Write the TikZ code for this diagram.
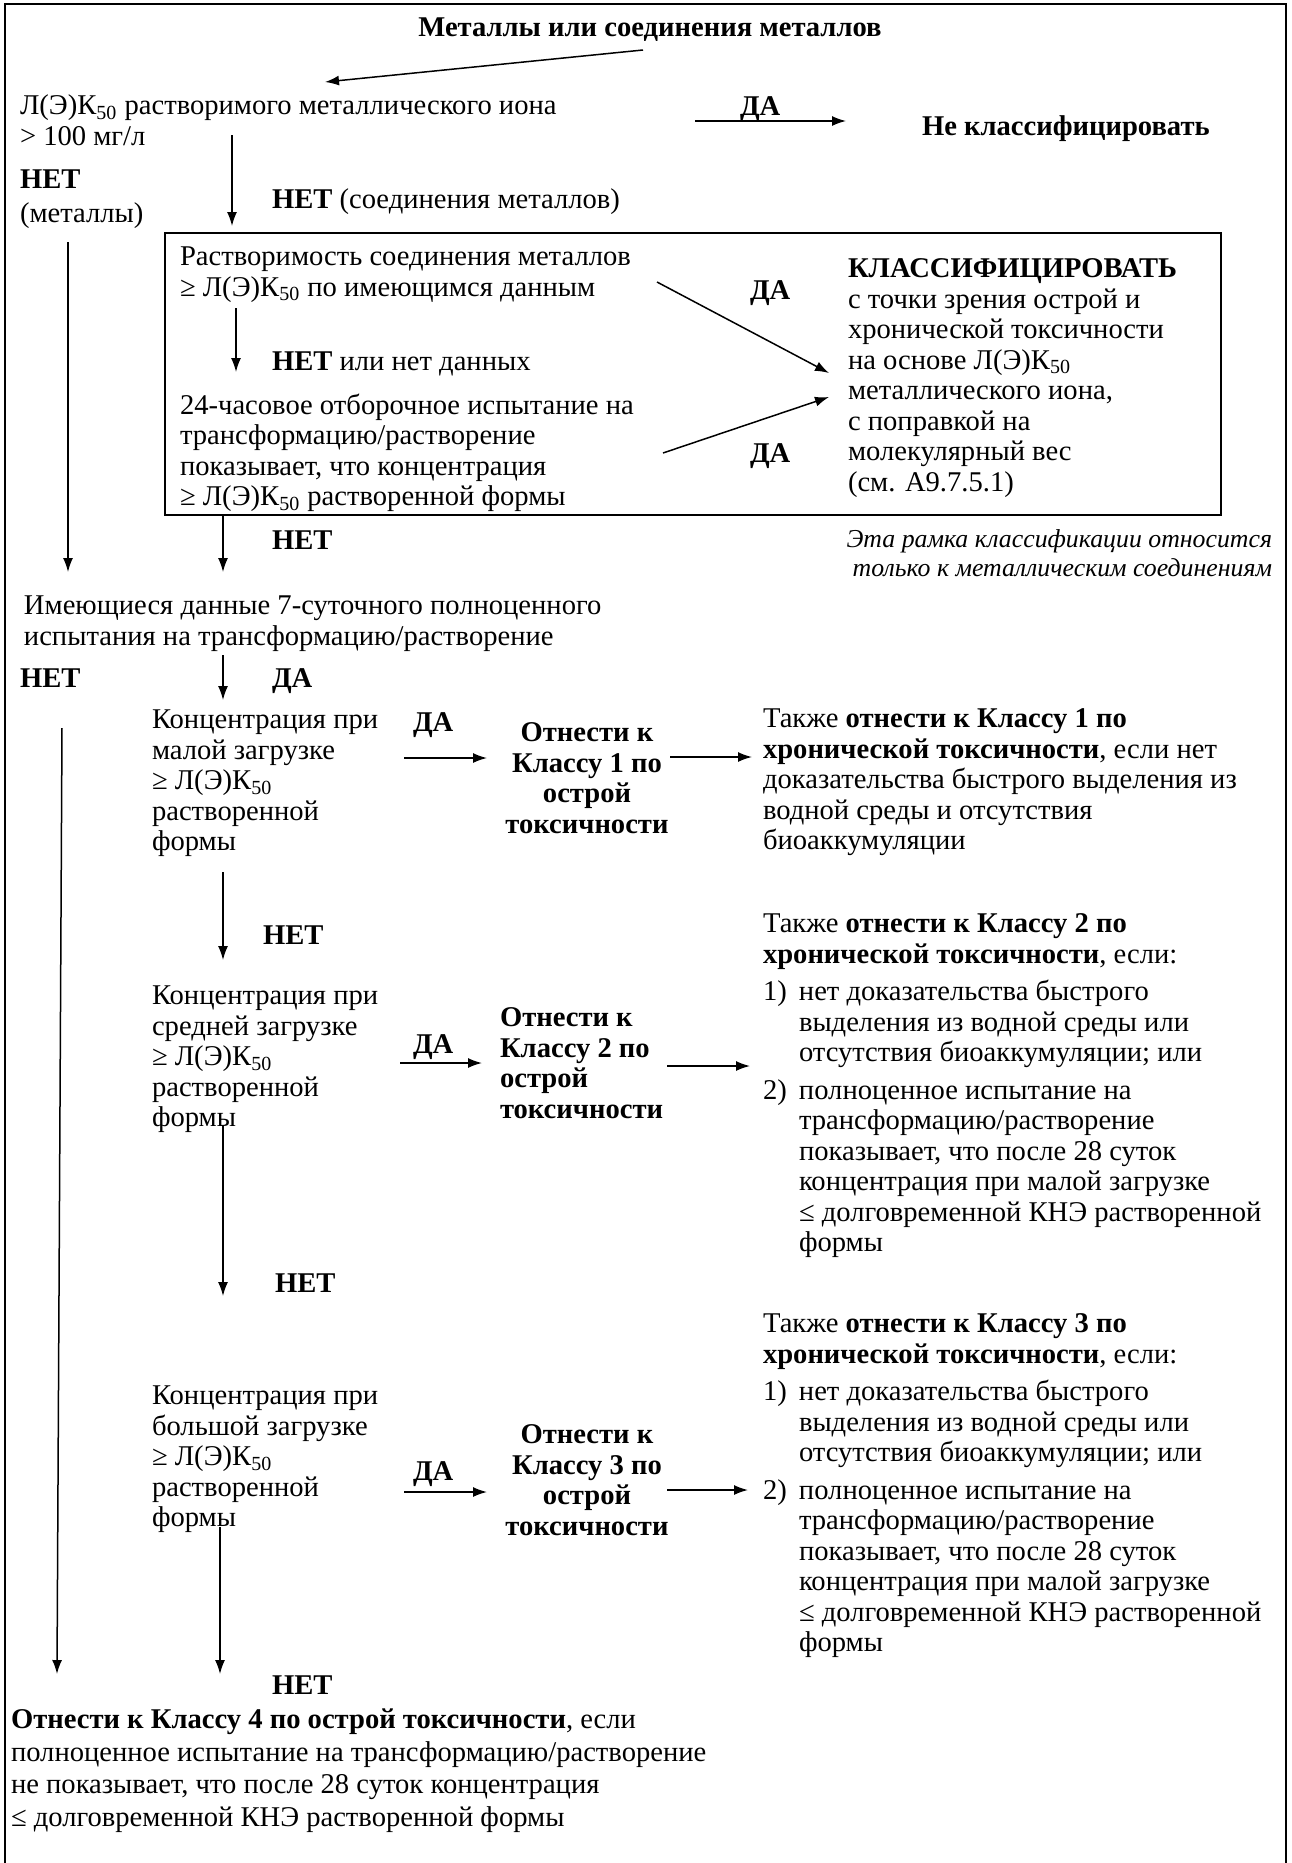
\documentclass[tikz,border=0pt]{standalone}
\usepackage{fontspec}
\setmainfont{Liberation Serif}
\usetikzlibrary{arrows.meta,fit}
\newcommand\bodyfont{\fontsize{14.3}{15.25}\selectfont}
\newcommand\notefont{\fontsize{12.9}{14.2}\selectfont}
\newcommand\hang{\hspace*{18pt}}
\newcommand\itm[1]{\makebox[18pt][l]{#1}}
\begin{document}
\begin{tikzpicture}[x=0.5pt,y=-0.5pt,
  txt/.style={inner sep=0pt, outer sep=0pt, align=left, anchor=north west, font=\bodyfont, execute at begin node=\strut},
  lbl/.style={txt, font=\bodyfont\bfseries},
  kc/.style={txt, anchor=north, align=center, font=\bodyfont\bfseries},
  arr/.style={-{Latex[length=7pt,width=5pt]}, line width=0.75pt},
  frame/.style={line width=1.4pt}]
\useasboundingbox (0,0) rectangle (1291,1863);
\draw[frame] (5,1863) -- (5,4) -- (1286,4) -- (1286,1863);

% top
\node[lbl, anchor=north] (title) at (650,15) {Металлы или соединения металлов};
\node[txt] (q1) at (20,95) {Л(Э)К\textsubscript{50} растворимого металлического иона\\> 100 мг/л};
\coordinate (a0s) at (643,50);
\coordinate (a0e) at (325,82);
\draw[arr] (a0s) -- (a0e);
\node[lbl] (da1) at (740,94) {ДА};
\node[lbl] (noclass) at (922,114) {Не классифицировать};
\coordinate (a1s) at (695,121);
\coordinate (a1e) at (846,121);
\draw[arr] (a1s) -- (a1e);

\node[txt] (netmet) at (20,170) {\textbf{НЕТ}\\[1.5pt](металлы)};
\coordinate (a2s) at (232,135);
\coordinate (a2e) at (232,226);
\draw[arr] (a2s) -- (a2e);
\node[txt] (netcomp) at (272,187) {\textbf{НЕТ} (соединения металлов)};

% inner box
\coordinate (bx1) at (165,233);
\coordinate (bx2) at (1221,515);
\node[draw, line width=1pt, inner sep=0pt, fit=(bx1)(bx2)] (cbox) {};
\node[txt] (sol) at (180,247) {Растворимость соединения металлов\\≥ Л(Э)К\textsubscript{50} по имеющимся данным};
\node[lbl] (da2) at (750,278) {ДА};
\coordinate (a3s) at (657,282);
\coordinate (a3e) at (829,373);
\draw[arr] (a3s) -- (a3e);
\coordinate (a4s) at (236,308);
\coordinate (a4e) at (236,372);
\draw[arr] (a4s) -- (a4e);
\node[txt] (netnd) at (272,349) {\textbf{НЕТ} или нет данных};
\node[txt] (screen) at (180,394) {24-часовое отборочное испытание на\\трансформацию/растворение\\показывает, что концентрация\\≥ Л(Э)К\textsubscript{50} растворенной формы};
\coordinate (a5s) at (663,453);
\coordinate (a5e) at (829,397);
\draw[arr] (a5s) -- (a5e);
\node[lbl] (da3) at (750,441) {ДА};
\node[txt] (klass) at (848,259) {\textbf{КЛАССИФИЦИРОВАТЬ}\\с точки зрения острой и\\хронической токсичности\\на основе Л(Э)К\textsubscript{50}\\металлического иона,\\с поправкой на\\молекулярный вес\\(см. A9.7.5.1)};
\node[txt, anchor=north east, align=right, font=\notefont\itshape] (note) at (1272,530) {Эта рамка классификации относится\\только к металлическим соединениям};

% metals branch
\coordinate (a6s) at (68,242);
\coordinate (a6e) at (68,572);
\draw[arr] (a6s) -- (a6e);
\coordinate (a7s) at (223,515);
\coordinate (a7e) at (223,572);
\draw[arr] (a7s) -- (a7e);
\node[lbl] (net4) at (272,528) {НЕТ};
\node[txt] (avail) at (24,596) {Имеющиеся данные 7-суточного полноценного\\испытания на трансформацию/растворение};
\coordinate (a8s) at (223,655);
\coordinate (a8e) at (223,700);
\draw[arr] (a8s) -- (a8e);
\node[lbl] (da4) at (272,666) {ДА};
\node[lbl] (net5) at (20,666) {НЕТ};
\coordinate (a9s) at (62,728);
\coordinate (a9e) at (57,1674);
\draw[arr] (a9s) -- (a9e);

% class 1
\node[txt] (c1) at (152,710) {Концентрация при\\малой загрузке\\≥ Л(Э)К\textsubscript{50}\\растворенной\\формы};
\node[lbl] (da5) at (413,710) {ДА};
\coordinate (b1s) at (404,758);
\coordinate (b1e) at (487,758);
\draw[arr] (b1s) -- (b1e);
\node[kc] (k1) at (587,723) {Отнести к\\Классу 1 по\\острой\\токсичности};
\coordinate (b2s) at (670,757);
\coordinate (b2e) at (752,757);
\draw[arr] (b2s) -- (b2e);
\node[txt] (r1) at (763,709) {Также \textbf{отнести к Классу 1 по}\\\textbf{хронической токсичности}, если нет\\доказательства быстрого выделения из\\водной среды и отсутствия\\биоаккумуляции};

% class 2
\coordinate (b3s) at (223,872);
\coordinate (b3e) at (223,960);
\draw[arr] (b3s) -- (b3e);
\node[lbl] (net6) at (263,923) {НЕТ};
\node[txt] (c2) at (152,986) {Концентрация при\\средней загрузке\\≥ Л(Э)К\textsubscript{50}\\растворенной\\формы};
\node[lbl] (da6) at (413,1032) {ДА};
\coordinate (b4s) at (400,1063);
\coordinate (b4e) at (482,1063);
\draw[arr] (b4s) -- (b4e);
\node[lbl] (k2) at (500,1008) {Отнести к\\Классу 2 по\\острой\\токсичности};
\coordinate (b5s) at (667,1066);
\coordinate (b5e) at (750,1066);
\draw[arr] (b5s) -- (b5e);
\node[txt] (r2) at (763,914) {Также \textbf{отнести к Классу 2 по}\\\textbf{хронической токсичности}, если:\\[3.5pt]\itm{1)}нет доказательства быстрого\\\hang выделения из водной среды или\\\hang отсутствия биоаккумуляции; или\\[3.5pt]\itm{2)}полноценное испытание на\\\hang трансформацию/растворение\\\hang показывает, что после 28 суток\\\hang концентрация при малой загрузке\\\hang ≤ долговременной КНЭ растворенной\\\hang формы};

% class 3
\coordinate (b6s) at (223,1125);
\coordinate (b6e) at (223,1296);
\draw[arr] (b6s) -- (b6e);
\node[lbl] (net7) at (275,1271) {НЕТ};
\node[txt] (r3) at (763,1314) {Также \textbf{отнести к Классу 3 по}\\\textbf{хронической токсичности}, если:\\[3.5pt]\itm{1)}нет доказательства быстрого\\\hang выделения из водной среды или\\\hang отсутствия биоаккумуляции; или\\[3.5pt]\itm{2)}полноценное испытание на\\\hang трансформацию/растворение\\\hang показывает, что после 28 суток\\\hang концентрация при малой загрузке\\\hang ≤ долговременной КНЭ растворенной\\\hang формы};
\node[txt] (c3) at (152,1386) {Концентрация при\\большой загрузке\\≥ Л(Э)К\textsubscript{50}\\растворенной\\формы};
\node[lbl] (da7) at (413,1459) {ДА};
\coordinate (b7s) at (404,1492);
\coordinate (b7e) at (487,1492);
\draw[arr] (b7s) -- (b7e);
\node[kc] (k3) at (587,1425) {Отнести к\\Классу 3 по\\острой\\токсичности};
\coordinate (b8s) at (667,1490);
\coordinate (b8e) at (748,1490);
\draw[arr] (b8s) -- (b8e);

% class 4
\coordinate (b9s) at (220,1527);
\coordinate (b9e) at (220,1674);
\draw[arr] (b9s) -- (b9e);
\node[lbl] (net8) at (272,1673) {НЕТ};
\node[txt] (bottom) at (11,1709) {\textbf{Отнести к Классу 4 по острой токсичности}, если\\[1pt]полноценное испытание на трансформацию/растворение\\[1pt]не показывает, что после 28 суток концентрация\\[1pt]≤ долговременной КНЭ растворенной формы};
\end{tikzpicture}
\end{document}
